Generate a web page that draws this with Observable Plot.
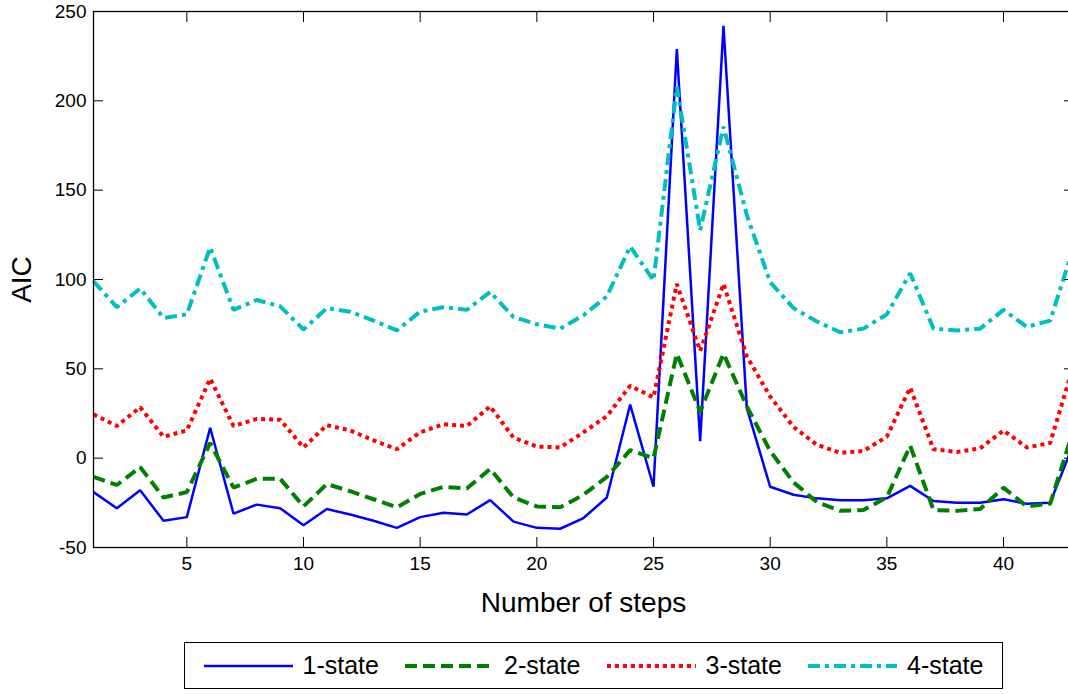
<!DOCTYPE html>
<html>
<head>
<meta charset="utf-8">
<script src="https://cdn.jsdelivr.net/npm/d3@7"></script>
<script src="https://cdn.jsdelivr.net/npm/@observablehq/plot@0.6"></script>
<style>
  html, body { margin: 0; padding: 0; background: #fff; overflow: hidden; }
  #wrap { position: relative; width: 1068px; height: 694px; overflow: hidden; }
  #chart svg { max-width: none !important; }
  #chart g[aria-label="y-axis label"], #chart g[aria-label="x-axis label"] { font-size: 28px; }
  #legend { position: absolute; left: 184px; top: 642px; width: 819px; height: 47px;
    box-sizing: border-box; border: 1.5px solid #000; background: #fff;
    font-family: "Liberation Sans", Arial, sans-serif; font-size: 25px; color: #000; }
  .item { position: absolute; top: 0; height: 100%; display: flex; align-items: center; }
  .item svg { margin-right: 10px; }
</style>
</head>
<body>
<div id="wrap">
  <div id="chart"></div>
  <div id="legend"></div>
</div>
<script>
// ---- data ----
const steps = d3.range(1, 44);
const seriesNames = ["1-state", "2-state", "3-state", "4-state"];
const aic1 = [-19, -28, -18, -35, -33, 17, -31, -26, -28, -37.5,
  -28.5, -31.5, -35, -39, -33, -30.5, -31.5, -23.5, -35.5, -39,
  -39.5, -33.5, -22, 30, -16, 229, 9.5, 242, 28, -16,
  -20.5, -22.5, -23.5, -23.5, -22.5, -15.5, -24, -25, -25, -23,
  -25.5, -25, 8];
const aic2 = [-10.5, -15, -5, -22, -19, 8.5, -16.5, -11.5, -11.5, -27,
  -14.5, -18.5, -23, -27.5, -20, -16, -17, -6, -22, -27,
  -27.5, -20.5, -10.5, 4.5, 0, 58.5, 26, 58.5, 29, 4,
  -13.5, -24.5, -29.5, -29, -22, 7, -29, -29.5, -28.5, -16.5,
  -27, -25.5, 16];
const aic3 = [24.5, 18, 28.5, 12, 15.5, 44.5, 18, 22, 21.5, 6,
  18.5, 15.5, 10, 5, 14.5, 19, 18, 29, 11.5, 6.5,
  6, 14.5, 23.5, 40.5, 34, 97.5, 60, 97.5, 57, 34.5,
  17.5, 7.5, 3, 4, 12, 39.5, 5, 3.5, 5.5, 15.5,
  6, 8.5, 52];
const aic4 = [99, 84.5, 95, 78.5, 80.5, 118, 83, 88.5, 85, 72,
  84, 82, 77, 71.5, 82, 84.5, 83, 93, 79, 75,
  72.5, 80, 90.5, 118.5, 99.5, 208, 127.5, 185.5, 136, 98.5,
  84, 76.5, 70.5, 72.5, 80.5, 103.5, 72.5, 71.5, 72.5, 83,
  73.5, 77, 118];
const xTicks = [5, 10, 15, 20, 25, 30, 35, 40];
const yTicks = [-50, 0, 50, 100, 150, 200, 250];

// ---- styles ----
const styles = [
  {color: "#0000ff", width: 2.5, dash: null},
  {color: "#008000", width: 4, dash: "12,6"},
  {color: "#ff0000", width: 4, dash: "4,4"},
  {color: "#00bfbf", width: 4, dash: "12,5,4,5"}
];

const allSeries = [aic1, aic2, aic3, aic4];
const table = [];
allSeries.forEach((vals, si) => vals.forEach((v, i) => table.push({step: steps[i], aic: v, series: seriesNames[si]})));

const lineMarks = seriesNames.map((name, si) => Plot.line(table.filter(d => d.series === name), {
  x: "step", y: "aic",
  stroke: styles[si].color, strokeWidth: styles[si].width,
  strokeDasharray: styles[si].dash, strokeLinecap: "butt", strokeLinejoin: "miter"
}));

const blank = () => "";
const plain = d => String(d);
const chart = Plot.plot({
  width: 1080, height: 636,
  marginLeft: 93, marginRight: 7, marginTop: 11, marginBottom: 89,
  style: {fontFamily: "Liberation Sans, Arial, sans-serif", fontSize: "19px", color: "#000", background: "#fff", maxWidth: "none"},
  x: {domain: [1, 43]},
  y: {domain: [-50, 250]},
  marks: [
    ...lineMarks,
    Plot.frame({stroke: "#000", strokeWidth: 1.3}),
    Plot.axisX({anchor: "bottom", ticks: xTicks, tickFormat: plain, tickSize: 0, tickPadding: 9, label: "Number of steps", labelAnchor: "center", labelOffset: 64, labelArrow: "none"}),
    Plot.axisY({anchor: "left", ticks: yTicks, tickFormat: plain, tickSize: 0, tickPadding: 7, label: "AIC", labelAnchor: "center", labelOffset: 82, labelArrow: "none"}),
    Plot.axisX({anchor: "bottom", ticks: xTicks, tickSize: -10, tickFormat: blank, label: null}),
    Plot.axisX({anchor: "top", ticks: xTicks, tickSize: -10, tickFormat: blank, label: null}),
    Plot.axisY({anchor: "left", ticks: yTicks, tickSize: -10, tickFormat: blank, label: null}),
    Plot.axisY({anchor: "right", ticks: yTicks, tickSize: -10, tickFormat: blank, label: null})
  ]
});
chart.style.maxWidth = "none";
document.getElementById("chart").appendChild(chart);

// ---- legend ----
const legend = document.getElementById("legend");
seriesNames.forEach((name, si) => {
  const st = styles[si];
  const item = document.createElement("div");
  item.className = "item";
  item.style.left = (18.5 + si * 201.5) + "px";
  const svgNS = "http://www.w3.org/2000/svg";
  const s = document.createElementNS(svgNS, "svg");
  s.setAttribute("width", 89); s.setAttribute("height", 10);
  const l = document.createElementNS(svgNS, "line");
  l.setAttribute("x1", 0); l.setAttribute("x2", 89); l.setAttribute("y1", 5); l.setAttribute("y2", 5);
  l.setAttribute("stroke", st.color); l.setAttribute("stroke-width", st.width);
  if (st.dash) l.setAttribute("stroke-dasharray", st.dash);
  s.appendChild(l);
  const t = document.createElement("span");
  t.textContent = name;
  item.appendChild(s); item.appendChild(t);
  legend.appendChild(item);
});
</script>
</body>
</html>
